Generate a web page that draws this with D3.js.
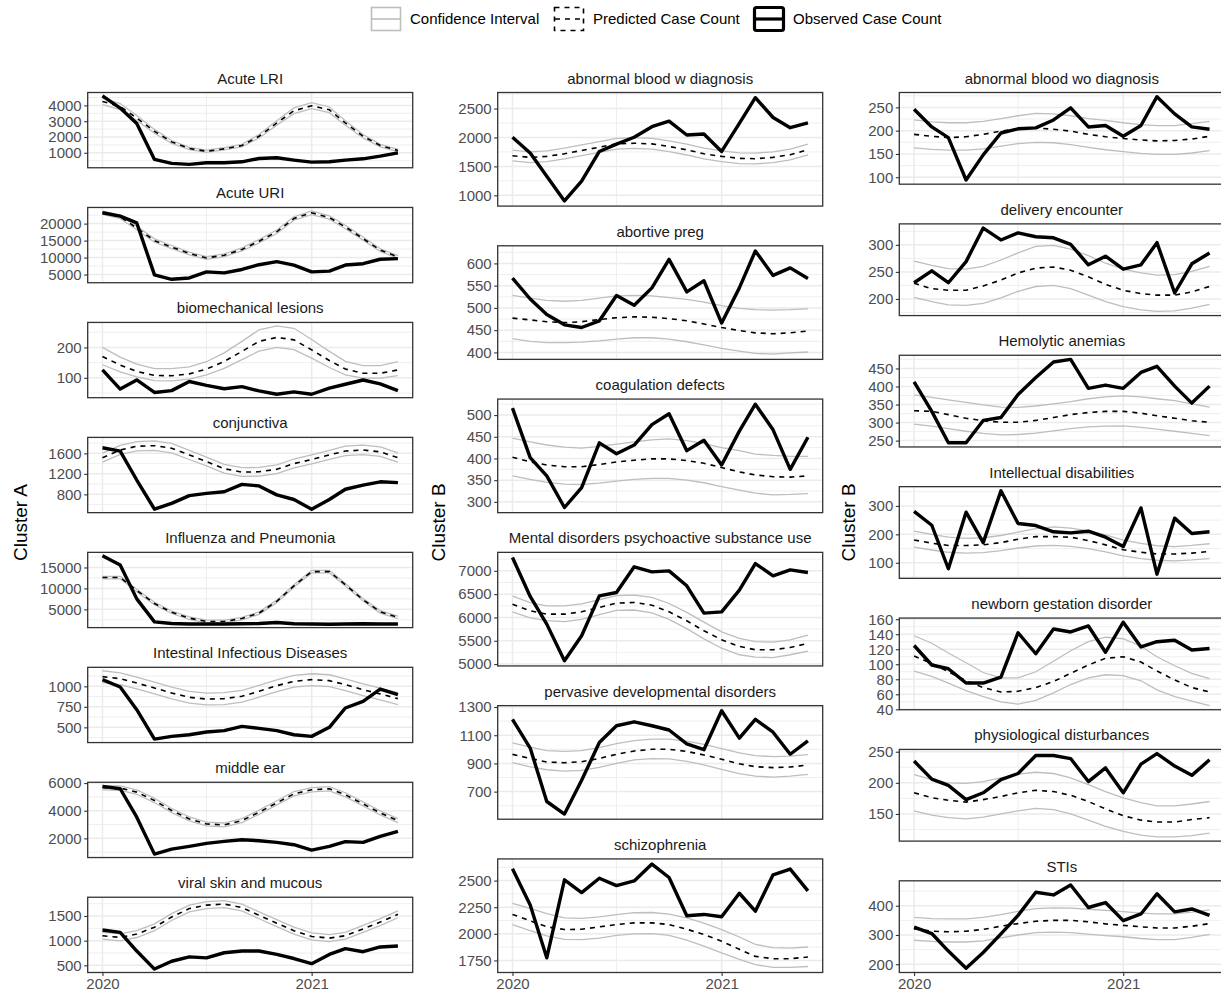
<!DOCTYPE html>
<html lang="en">
<head>
<meta charset="UTF-8">
<title>Observed vs predicted case counts</title>
<script src="https://cdnjs.cloudflare.com/ajax/libs/d3/7.8.5/d3.min.js"></script>
<style>
  body { margin: 0; padding: 0; background: #fff; }
  svg { display: block; font-family: "Liberation Sans", Arial, Helvetica, sans-serif; }
</style>
</head>
<body>
<div id="chart"></div>
<script>
// monthly time points
const months = ["2020-01-01","2020-02-01","2020-03-01","2020-04-01","2020-05-01","2020-06-01",
  "2020-07-01","2020-08-01","2020-09-01","2020-10-01","2020-11-01","2020-12-01",
  "2021-01-01","2021-02-01","2021-03-01","2021-04-01","2021-05-01","2021-06-01"];
const xTickLabels = ["2020", "2021"];
const legendLabels = ["Confidence Interval", "Predicted Case Count", "Observed Case Count"];
const clusterTitles = ["Cluster A", "Cluster B", "Cluster B"];

// ---- Cluster A ----
const acuteLriObs   = [4600, 3830, 2850, 580, 330, 270, 370, 370, 430, 640, 690, 540, 410, 430, 540, 620, 790, 1000];
const acuteLriPred  = [4250, 3930, 3200, 2360, 1690, 1270, 1100, 1250, 1460, 2050, 2890, 3660, 3980, 3720, 2890, 2050, 1460, 1150];
const acuteLriUpper = [4450, 4120, 3360, 2480, 1780, 1340, 1170, 1320, 1540, 2160, 3030, 3840, 4170, 3900, 3030, 2160, 1540, 1220];
const acuteLriLower = [4050, 3740, 3040, 2240, 1600, 1200, 1030, 1180, 1380, 1940, 2750, 3480, 3790, 3540, 2750, 1940, 1380, 1080];
const acuteLriTicks = [1000, 2000, 3000, 4000];

const acuteUriObs   = [23200, 22200, 20200, 4900, 3600, 4000, 5800, 5500, 6500, 7900, 8800, 7800, 5800, 6000, 7800, 8200, 9500, 9700];
const acuteUriPred  = [23200, 22000, 18700, 15000, 13100, 11200, 9900, 10700, 12400, 14800, 17600, 21500, 23200, 21800, 19000, 15600, 12200, 10200];
const acuteUriUpper = [23700, 22500, 19200, 15500, 13550, 11600, 10300, 11100, 12850, 15300, 18100, 22000, 23750, 22300, 19500, 16050, 12600, 10600];
const acuteUriLower = [22700, 21500, 18200, 14500, 12650, 10800, 9500, 10300, 11950, 14300, 17100, 21000, 22650, 21300, 18500, 15150, 11800, 9800];
const acuteUriTicks = [5000, 10000, 15000, 20000];

const biomechObs   = [126, 63, 93, 52, 58, 88, 75, 64, 71, 57, 46, 54, 46, 66, 79, 93, 80, 58];
const biomechPred  = [170, 142, 121, 108, 107, 113, 129, 154, 187, 220, 233, 225, 192, 157, 129, 115, 115, 126];
const biomechUpper = [200, 168, 145, 130, 130, 136, 153, 182, 220, 258, 271, 263, 226, 187, 154, 140, 140, 153];
const biomechLower = [143, 120, 103, 91, 90, 96, 110, 131, 160, 188, 200, 193, 165, 134, 110, 99, 99, 107];
const biomechTicks = [100, 200];

const conjObs   = [1710, 1645, 1080, 510, 625, 775, 820, 850, 995, 965, 790, 700, 510, 700, 900, 980, 1045, 1030];
const conjPred  = [1515, 1665, 1740, 1750, 1700, 1570, 1440, 1300, 1235, 1240, 1290, 1400, 1480, 1570, 1645, 1665, 1630, 1515];
const conjUpper = [1605, 1755, 1830, 1845, 1795, 1660, 1525, 1385, 1320, 1325, 1375, 1490, 1570, 1660, 1740, 1760, 1725, 1610];
const conjLower = [1430, 1580, 1650, 1660, 1610, 1480, 1355, 1215, 1150, 1155, 1205, 1315, 1395, 1485, 1555, 1575, 1540, 1430];
const conjTicks = [800, 1200, 1600];

const fluObs   = [17800, 15600, 7500, 2000, 1600, 1500, 1500, 1500, 1550, 1600, 1850, 1550, 1500, 1450, 1500, 1550, 1500, 1500];
const fluPred  = [12600, 12600, 9500, 6400, 4300, 2900, 2100, 2100, 2800, 4100, 6900, 10600, 14000, 14000, 10900, 7300, 4400, 3100];
const fluUpper = [12900, 12900, 9800, 6700, 4600, 3200, 2400, 2400, 3100, 4400, 7200, 10900, 14300, 14300, 11200, 7600, 4700, 3400];
const fluLower = [12300, 12300, 9200, 6100, 4000, 2600, 1800, 1800, 2500, 3800, 6600, 10300, 13700, 13700, 10600, 7000, 4100, 2800];
const fluTicks = [5000, 10000, 15000];

const intestObs   = [1081, 992, 715, 356, 390, 410, 443, 460, 512, 488, 460, 410, 390, 500, 736, 817, 967, 898];
const intestPred  = [1118, 1093, 1040, 980, 919, 866, 845, 850, 878, 939, 1008, 1061, 1081, 1069, 1020, 959, 907, 850];
const intestUpper = [1190, 1165, 1112, 1052, 991, 938, 917, 922, 950, 1011, 1080, 1133, 1153, 1141, 1092, 1031, 979, 922];
const intestLower = [1046, 1021, 968, 908, 847, 794, 773, 778, 806, 867, 936, 989, 1009, 997, 948, 887, 835, 778];
const intestTicks = [500, 750, 1000];

const earObs   = [5760, 5590, 3530, 860, 1220, 1420, 1640, 1780, 1900, 1830, 1710, 1540, 1150, 1420, 1760, 1710, 2150, 2510];
const earPred  = [5660, 5636, 5345, 4739, 4012, 3406, 3042, 2970, 3285, 3891, 4570, 5224, 5515, 5588, 5152, 4497, 3842, 3285];
const earUpper = [5810, 5790, 5500, 4890, 4160, 3550, 3180, 3110, 3430, 4040, 4720, 5380, 5670, 5740, 5300, 4640, 3990, 3430];
const earLower = [5510, 5480, 5190, 4590, 3860, 3260, 2900, 2830, 3140, 3740, 4420, 5070, 5360, 5440, 5000, 4350, 3700, 3140];
const earTicks = [2000, 4000, 6000];

const viralObs   = [1217, 1169, 790, 424, 583, 672, 652, 755, 790, 790, 721, 638, 534, 721, 838, 776, 872, 893];
const viralPred  = [1100, 1066, 1134, 1272, 1479, 1652, 1721, 1741, 1672, 1514, 1355, 1203, 1086, 1052, 1100, 1238, 1376, 1534];
const viralUpper = [1170, 1136, 1204, 1342, 1549, 1722, 1791, 1811, 1742, 1584, 1425, 1273, 1156, 1122, 1170, 1308, 1446, 1604];
const viralLower = [1030, 996, 1064, 1202, 1409, 1582, 1651, 1671, 1602, 1444, 1285, 1133, 1016, 982, 1030, 1168, 1306, 1464];
const viralTicks = [500, 1000, 1500];

// ---- Cluster B (middle) ----
const bloodWObs   = [2003, 1730, 1331, 903, 1245, 1758, 1884, 2003, 2186, 2283, 2043, 2060, 1758, 2243, 2688, 2345, 2169, 2254];
const bloodWPred  = [1684, 1656, 1673, 1718, 1775, 1832, 1889, 1900, 1889, 1844, 1787, 1718, 1673, 1639, 1633, 1656, 1701, 1787];
const bloodWUpper = [1780, 1752, 1769, 1814, 1871, 1928, 1985, 1996, 1985, 1940, 1883, 1814, 1769, 1735, 1729, 1752, 1797, 1883];
const bloodWLower = [1594, 1566, 1583, 1628, 1685, 1742, 1799, 1810, 1799, 1754, 1697, 1628, 1583, 1549, 1543, 1566, 1611, 1697];
const bloodWTicks = [1000, 1500, 2000, 2500];

const abortObs   = [567, 520, 485, 462, 456, 471, 528, 506, 545, 609, 536, 561, 466, 545, 628, 573, 590, 566];
const abortPred  = [477, 473, 469, 467, 469, 474, 478, 480, 479, 476, 471, 464, 456, 449, 444, 442, 444, 448];
const abortUpper = [528, 522, 517, 515, 517, 522, 527, 528, 527, 523, 519, 513, 505, 499, 496, 495, 496, 498];
const abortLower = [431, 425, 422, 422, 423, 426, 430, 433, 433, 430, 424, 417, 409, 403, 398, 396, 399, 401];
const abortTicks = [400, 450, 500, 550, 600];

const coagObs   = [516, 402, 360, 287, 333, 436, 411, 431, 478, 503, 418, 442, 385, 463, 525, 466, 375, 449];
const coagPred  = [403, 392, 385, 381, 381, 386, 392, 396, 399, 399, 395, 389, 379, 369, 362, 358, 357, 360];
const coagUpper = [447, 438, 431, 426, 424, 428, 433, 438, 443, 445, 441, 434, 425, 418, 410, 407, 405, 405];
const coagLower = [360, 352, 345, 341, 340, 343, 348, 352, 354, 354, 350, 344, 335, 327, 320, 316, 317, 319];
const coagTicks = [300, 350, 400, 450, 500];

const mentalObs   = [7286, 6450, 5857, 5071, 5607, 6464, 6536, 7086, 6979, 7000, 6679, 6093, 6121, 6586, 7157, 6893, 7021, 6964];
const mentalPred  = [6286, 6143, 6071, 6071, 6121, 6214, 6307, 6321, 6264, 6121, 5929, 5714, 5521, 5379, 5307, 5307, 5357, 5443];
const mentalUpper = [6460, 6320, 6250, 6250, 6290, 6380, 6470, 6480, 6430, 6300, 6110, 5900, 5690, 5550, 5480, 5470, 5520, 5620];
const mentalLower = [6120, 5990, 5930, 5910, 5960, 6060, 6150, 6160, 6100, 5960, 5760, 5540, 5340, 5200, 5150, 5140, 5200, 5280];
const mentalTicks = [5000, 5500, 6000, 6500, 7000];

const pervObs   = [1212, 1009, 630, 541, 780, 1048, 1167, 1195, 1167, 1137, 1039, 997, 1273, 1079, 1212, 1121, 965, 1060];
const pervPred  = [964, 935, 910, 905, 912, 935, 965, 988, 1000, 1000, 985, 960, 930, 897, 877, 870, 875, 888];
const pervUpper = [1045, 1015, 990, 985, 990, 1012, 1040, 1062, 1072, 1072, 1058, 1035, 1005, 975, 955, 948, 952, 962];
const pervLower = [905, 875, 855, 845, 850, 872, 900, 925, 934, 932, 915, 890, 858, 828, 810, 803, 810, 823];
const pervTicks = [700, 900, 1100, 1300];

const schizoObs   = [2611, 2270, 1775, 2507, 2387, 2522, 2453, 2497, 2655, 2529, 2169, 2182, 2160, 2381, 2213, 2554, 2608, 2403];
const schizoPred  = [2182, 2123, 2065, 2040, 2043, 2065, 2087, 2103, 2103, 2087, 2043, 1993, 1930, 1854, 1788, 1766, 1766, 1782];
const schizoUpper = [2286, 2240, 2190, 2150, 2145, 2160, 2180, 2198, 2200, 2185, 2150, 2100, 2040, 1970, 1900, 1870, 1865, 1876];
const schizoLower = [2087, 2030, 1980, 1948, 1945, 1960, 1985, 2000, 2002, 1985, 1940, 1885, 1820, 1760, 1710, 1685, 1685, 1693];
const schizoTicks = [1750, 2000, 2250, 2500];

// ---- Cluster B (right) ----
const bloodWoObs   = [246, 208, 185, 94, 148, 195, 204, 206, 223, 249, 208, 211, 188, 211, 273, 236, 208, 203];
const bloodWoPred  = [192, 188, 185, 187, 192, 199, 204, 206, 203, 199, 192, 187, 183, 180, 178, 179, 182, 188];
const bloodWoUpper = [223, 219, 217, 217, 220, 226, 232, 237, 236, 232, 226, 222, 217, 213, 211, 211, 215, 220];
const bloodWoLower = [163, 160, 158, 158, 161, 167, 172, 175, 174, 170, 164, 159, 155, 151, 149, 149, 152, 157];
const bloodWoTicks = [100, 150, 200, 250];

const deliveryObs   = [230, 252, 230, 269, 331, 309, 322, 315, 313, 301, 263, 279, 255, 263, 304, 211, 265, 285];
const deliveryPred  = [229, 219, 216, 216, 224, 235, 248, 257, 259, 253, 241, 227, 216, 210, 207, 207, 213, 223];
const deliveryUpper = [270, 262, 256, 255, 260, 272, 285, 297, 299, 292, 280, 266, 255, 248, 244, 245, 251, 260];
const deliveryLower = [203, 195, 189, 188, 192, 202, 214, 223, 225, 219, 207, 195, 186, 180, 177, 178, 183, 190];
const deliveryTicks = [200, 250, 300];

const hemoObs   = [413, 331, 244, 244, 306, 314, 378, 425, 468, 475, 395, 404, 395, 439, 456, 401, 354, 401];
const hemoPred  = [333, 331, 322, 312, 305, 301, 301, 306, 314, 322, 328, 331, 331, 326, 319, 312, 305, 301];
const hemoUpper = [377, 370, 363, 356, 349, 343, 342, 346, 352, 358, 366, 371, 374, 371, 366, 361, 352, 343];
const hemoLower = [296, 290, 283, 276, 270, 266, 267, 271, 277, 283, 288, 290, 291, 287, 282, 276, 270, 264];
const hemoTicks = [250, 300, 350, 400, 450];

const intellObs   = [281, 232, 79, 278, 171, 353, 238, 231, 209, 205, 211, 190, 157, 293, 60, 257, 203, 209];
const intellPred  = [180, 169, 161, 161, 163, 171, 183, 192, 192, 190, 178, 163, 146, 137, 131, 131, 134, 140];
const intellUpper = [211, 200, 190, 186, 188, 196, 208, 220, 226, 222, 212, 198, 180, 168, 160, 157, 161, 167];
const intellLower = [155, 145, 137, 134, 136, 143, 152, 159, 161, 158, 150, 138, 124, 115, 109, 107, 110, 115];
const intellTicks = [100, 200, 300];

const newbornObs   = [125, 99, 94, 75, 75, 83, 142, 114, 147, 143, 151, 116, 156, 123, 130, 132, 119, 121];
const newbornPred  = [111, 101, 90, 78, 69, 63, 64, 69, 77, 88, 99, 108, 110, 103, 91, 79, 69, 63];
const newbornUpper = [138, 128, 115, 102, 89, 82, 82, 90, 104, 118, 130, 136, 134, 124, 110, 98, 88, 81];
const newbornLower = [91, 84, 75, 65, 57, 50, 47, 52, 62, 73, 82, 86, 85, 78, 66, 57, 51, 45];
const newbornTicks = [40, 60, 80, 100, 120, 140, 160];

const physioObs   = [235, 206, 196, 173, 184, 205, 215, 244, 244, 239, 202, 224, 184, 230, 247, 227, 212, 237];
const physioPred  = [184, 176, 172, 169, 173, 178, 184, 188, 186, 180, 170, 158, 147, 140, 137, 137, 141, 144];
const physioUpper = [213, 205, 200, 199, 202, 208, 214, 217, 215, 208, 197, 186, 176, 168, 163, 163, 166, 170];
const physioLower = [155, 148, 144, 142, 145, 150, 155, 159, 157, 150, 140, 130, 122, 116, 113, 113, 115, 119];
const physioTicks = [150, 200, 250];

const stiObs   = [327, 305, 245, 186, 240, 304, 367, 446, 437, 471, 394, 411, 349, 372, 441, 379, 389, 367];
const stiPred  = [321, 313, 311, 313, 319, 330, 339, 347, 350, 350, 345, 338, 333, 328, 324, 324, 330, 339];
const stiUpper = [360, 356, 355, 355, 360, 370, 381, 390, 393, 392, 388, 384, 380, 375, 372, 372, 378, 386];
const stiLower = [282, 278, 276, 276, 280, 290, 300, 308, 310, 308, 303, 298, 294, 288, 284, 284, 292, 302];
const stiTicks = [200, 300, 400];

// panel table built from the arrays above
const P = (title, obs, pred, upper, lower, ticks) => ({ title, obs, pred, upper, lower, ticks });
const columns = [
  [
    P("Acute LRI", acuteLriObs, acuteLriPred, acuteLriUpper, acuteLriLower, acuteLriTicks),
    P("Acute URI", acuteUriObs, acuteUriPred, acuteUriUpper, acuteUriLower, acuteUriTicks),
    P("biomechanical lesions", biomechObs, biomechPred, biomechUpper, biomechLower, biomechTicks),
    P("conjunctiva", conjObs, conjPred, conjUpper, conjLower, conjTicks),
    P("Influenza and Pneumonia", fluObs, fluPred, fluUpper, fluLower, fluTicks),
    P("Intestinal Infectious Diseases", intestObs, intestPred, intestUpper, intestLower, intestTicks),
    P("middle ear", earObs, earPred, earUpper, earLower, earTicks),
    P("viral skin and mucous", viralObs, viralPred, viralUpper, viralLower, viralTicks)
  ],
  [
    P("abnormal blood w diagnosis", bloodWObs, bloodWPred, bloodWUpper, bloodWLower, bloodWTicks),
    P("abortive preg", abortObs, abortPred, abortUpper, abortLower, abortTicks),
    P("coagulation defects", coagObs, coagPred, coagUpper, coagLower, coagTicks),
    P("Mental disorders psychoactive substance use", mentalObs, mentalPred, mentalUpper, mentalLower, mentalTicks),
    P("pervasive developmental disorders", pervObs, pervPred, pervUpper, pervLower, pervTicks),
    P("schizophrenia", schizoObs, schizoPred, schizoUpper, schizoLower, schizoTicks)
  ],
  [
    P("abnormal blood wo diagnosis", bloodWoObs, bloodWoPred, bloodWoUpper, bloodWoLower, bloodWoTicks),
    P("delivery encounter", deliveryObs, deliveryPred, deliveryUpper, deliveryLower, deliveryTicks),
    P("Hemolytic anemias", hemoObs, hemoPred, hemoUpper, hemoLower, hemoTicks),
    P("Intellectual disabilities", intellObs, intellPred, intellUpper, intellLower, intellTicks),
    P("newborn gestation disorder", newbornObs, newbornPred, newbornUpper, newbornLower, newbornTicks),
    P("physiological disturbances", physioObs, physioPred, physioUpper, physioLower, physioTicks),
    P("STIs", stiObs, stiPred, stiUpper, stiLower, stiTicks)
  ]
];

// layout
const W = 1221, H = 996;
const colLeft = [87.7, 497.7, 899.3];
const panelW = 325;
const titleX = [20, 438, 848];
const plotTop = 92.5, plotBottom = 972.5, stripGap = 39.7;
const gridCol = "#ebebeb", ciCol = "#bebebe", borderCol = "#333333";

const parse = d3.timeParse("%Y-%m-%d");
const dates = months.map(parse);
const t0 = dates[0], t1 = dates[dates.length - 1];
const pad = (t1 - t0) * 0.05;
const xDomain = [new Date(+t0 - pad), new Date(+t1 + pad)];
const majorX = xTickLabels.map(y => parse(y + "-01-01"));
const minorX = [parse("2020-07-01")];

const svg = d3.select("#chart").append("svg")
  .attr("width", W).attr("height", H);

columns.forEach((panels, ci) => {
  const n = panels.length;
  const ph = (plotBottom - plotTop - (n - 1) * stripGap) / n;
  const x = d3.scaleTime().domain(xDomain).range([colLeft[ci], colLeft[ci] + panelW]);

  panels.forEach((p, pi) => {
    const top = plotTop + pi * (ph + stripGap);
    const all = p.obs.concat(p.pred, p.upper, p.lower);
    const [lo, hi] = d3.extent(all);
    const ex = (hi - lo) * 0.05;
    const y = d3.scaleLinear().domain([lo - ex, hi + ex]).range([top + ph, top]);
    const g = svg.append("g");
    const L = colLeft[ci], R = colLeft[ci] + panelW;

    // minor grid
    const step = p.ticks[1] - p.ticks[0];
    const minorY = [p.ticks[0] - step / 2].concat(p.ticks.map(t => t + step / 2))
      .filter(v => v > y.domain()[0] && v < y.domain()[1]);
    g.selectAll(".ymin").data(minorY).join("line")
      .attr("x1", L).attr("x2", R).attr("y1", d => y(d)).attr("y2", d => y(d))
      .attr("stroke", gridCol).attr("stroke-width", 0.8);
    g.selectAll(".xmin").data(minorX).join("line")
      .attr("x1", d => x(d)).attr("x2", d => x(d)).attr("y1", top).attr("y2", top + ph)
      .attr("stroke", gridCol).attr("stroke-width", 0.8);
    // major grid
    g.selectAll(".ymaj").data(p.ticks).join("line")
      .attr("x1", L).attr("x2", R).attr("y1", d => y(d)).attr("y2", d => y(d))
      .attr("stroke", gridCol).attr("stroke-width", 1.5);
    g.selectAll(".xmaj").data(majorX).join("line")
      .attr("x1", d => x(d)).attr("x2", d => x(d)).attr("y1", top).attr("y2", top + ph)
      .attr("stroke", gridCol).attr("stroke-width", 1.5);

    const line = d3.line().x((d, i) => x(dates[i])).y(d => y(d));
    [p.upper, p.lower].forEach(s => {
      g.append("path").attr("d", line(s)).attr("fill", "none")
        .attr("stroke", ciCol).attr("stroke-width", 1.3);
    });
    g.append("path").attr("d", line(p.pred)).attr("fill", "none")
      .attr("stroke", "#000").attr("stroke-width", 1.6).attr("stroke-dasharray", "5,5");
    g.append("path").attr("d", line(p.obs)).attr("fill", "none")
      .attr("stroke", "#000").attr("stroke-width", 3.4).attr("stroke-linejoin", "round");

    // border
    g.append("rect").attr("x", L).attr("y", top).attr("width", panelW).attr("height", ph)
      .attr("fill", "none").attr("stroke", borderCol).attr("stroke-width", 1.3);

    // y axis
    const yAxis = d3.axisLeft(y).tickValues(p.ticks).tickSize(3.5).tickPadding(2.5).tickFormat(d3.format("d"));
    const ya = svg.append("g").attr("transform", `translate(${L},0)`).call(yAxis);
    ya.select(".domain").remove();
    ya.selectAll(".tick line").attr("stroke", borderCol).attr("stroke-width", 1.1);
    ya.selectAll(".tick text").attr("fill", "#4d4d4d").style("font-size", "15px")
      .style("font-family", "'Liberation Sans', Arial, sans-serif");

    // strip title
    svg.append("text").attr("x", (L + R) / 2).attr("y", top - 9)
      .attr("text-anchor", "middle").attr("fill", "#1a1a1a").style("font-size", "15px")
      .text(p.title);

    // x axis on the last panel only
    if (pi === n - 1) {
      const xAxis = d3.axisBottom(x).tickValues(majorX).tickSize(3.5).tickPadding(2.5)
        .tickFormat((d, i) => xTickLabels[i]);
      const xa = svg.append("g").attr("transform", `translate(0,${top + ph})`).call(xAxis);
      xa.select(".domain").remove();
      xa.selectAll(".tick line").attr("stroke", borderCol).attr("stroke-width", 1.1);
      xa.selectAll(".tick text").attr("fill", "#4d4d4d").style("font-size", "15px")
        .style("font-family", "'Liberation Sans', Arial, sans-serif");
    }
  });

  // cluster title
  svg.append("text")
    .attr("transform", `translate(${titleX[ci]},${(plotTop - 20 + plotBottom) / 2}) rotate(-90)`)
    .attr("text-anchor", "middle").attr("dy", "0.35em")
    .attr("fill", "#000").style("font-size", "19px")
    .text(clusterTitles[ci]);
});

// legend: keys are an outlined box plus a line, in each series' style
const legendX = [370, 553, 753];
const keyStyle = [
  { stroke: ciCol, width: 1.6, dash: null },
  { stroke: "#000", width: 1.6, dash: "5,5" },
  { stroke: "#000", width: 3.2, dash: null }
];
const leg = svg.append("g").attr("transform", "translate(0,19)");
legendLabels.forEach((lab, i) => {
  const g = leg.append("g").attr("transform", `translate(${legendX[i]},0)`);
  const s = keyStyle[i];
  const box = g.append("rect").attr("x", 1.5).attr("y", -11.5).attr("width", 29).attr("height", 23)
    .attr("rx", i === 2 ? 2 : 0).attr("fill", "none")
    .attr("stroke", s.stroke).attr("stroke-width", s.width);
  const ln = g.append("line").attr("x1", 2).attr("x2", 30).attr("y1", 0).attr("y2", 0)
    .attr("stroke", s.stroke).attr("stroke-width", s.width);
  if (s.dash) { box.attr("stroke-dasharray", s.dash); ln.attr("stroke-dasharray", s.dash); }
  g.append("text").attr("x", 40).attr("dy", "0.35em").attr("fill", "#000")
    .style("font-size", "15px").text(lab);
});
</script>
</body>
</html>
